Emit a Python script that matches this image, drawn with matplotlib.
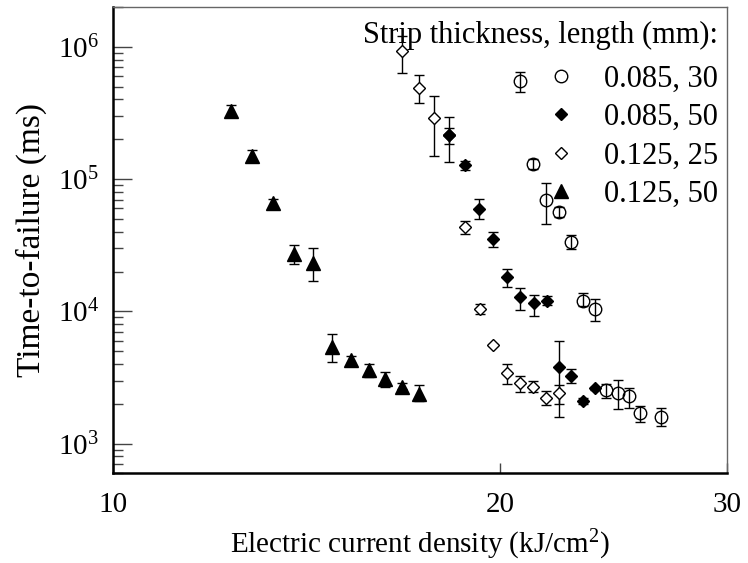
import numpy as np
import matplotlib
matplotlib.use("Agg")
import matplotlib.pyplot as plt
from matplotlib.ticker import LogLocator, FixedLocator, FixedFormatter, NullLocator

plt.rcParams['font.family'] = ['Liberation Serif', 'DejaVu Serif']
plt.rcParams['mathtext.fontset'] = 'custom'
plt.rcParams['mathtext.rm'] = 'Liberation Serif'
plt.rcParams['mathtext.it'] = 'Liberation Serif:italic'

# ---- data: 0.085 mm, 30 mm (open circles)
c_x = [20.73, 21.21, 21.71, 22.21, 22.71, 23.18, 23.71, 24.17, 24.68, 25.17, 25.66, 26.67]
c_y = [550000, 131000, 69000, 56700, 33600, 12000, 10500, 2550, 2400, 2280, 1690, 1590]
c_hi = [647000, 143000, 92700, 61500, 37800, 13700, 12300, 2810, 3030, 2650, 1910, 1850]
c_lo = [457000, 120000, 45500, 52000, 29800, 10900, 8470, 2230, 1820, 1850, 1460, 1350]

# ---- data: 0.085 mm, 50 mm (filled diamonds)
f_x = [18.24, 18.76, 19.24, 19.74, 20.22, 20.73, 21.23, 21.74, 22.21, 22.71, 23.18, 23.67]
f_y = [214000, 127000, 59700, 35500, 18300, 12900, 11500, 12000, 3800, 3250, 2100, 2620]
f_hi = [296000, 136000, 71100, 40100, 21000, 15100, 13400, 13000, 5970, 3660, 2200, 2700]
f_lo = [134000, 118000, 50200, 30800, 15300, 10200, 9230, 11100, 1600, 2860, 2000, 2540]

# ---- data: 0.125 mm, 25 mm (open diamonds)
d_x = [16.77, 17.28, 17.75, 18.24, 18.76, 19.27, 19.74, 20.24, 20.73, 21.20, 21.71, 22.21]
d_y = [927000, 490000, 291000, 214000, 43400, 10500, 5570, 3400, 2860, 2700, 2230, 2400]
d_hi = [1200000, 615000, 428000, 244000, 48200, 11450, 5700, 3980, 3220, 2950, 2480, 2770]
d_lo = [637000, 375000, 149000, 183000, 38700, 9500, 5450, 2810, 2440, 2460, 1950, 1990]

# ---- data: 0.125 mm, 50 mm (filled triangles)
t_x = [12.34, 12.83, 13.32, 13.82, 14.31, 14.80, 15.30, 15.80, 16.28, 16.77, 17.28]
t_y = [326000, 149000, 66400, 27000, 23400, 5380, 4300, 3590, 3070, 2700, 2370]
t_hi = [361000, 167000, 71100, 32000, 30000, 6710, 4580, 3980, 3480, 2850, 2770]
t_lo = [300000, 140000, 62000, 23000, 17000, 4150, 4050, 3210, 2690, 2600, 2100]

legend_title = "Strip thickness, length (mm):"
labels = ["0.085, 30", "0.085, 50", "0.125, 25", "0.125, 50"]
x_ticks = [10, 20, 30]

fig = plt.figure(figsize=(7.48, 5.63), dpi=100)
ax = fig.add_axes([0.1511, 0.1599, 0.8208, 0.8277])


def eb(x, y, lo, hi, **kw):
    x = np.array(x); y = np.array(y); lo = np.array(lo); hi = np.array(hi)
    return ax.errorbar(x, y, yerr=[y - lo, hi - y], ecolor='black', elinewidth=1.0,
                       capsize=3.6, capthick=1.0, linestyle='none', **kw)

e_d = eb(d_x, d_y, d_lo, d_hi, marker='D', ms=6.2, mfc='white', mec='black', mew=1.0)
e_f = eb(f_x, f_y, f_lo, f_hi, marker='D', ms=6.2, mfc='black', mec='black', mew=1.0)
e_c = eb(c_x, c_y, c_lo, c_hi, marker='o', ms=9, mfc='none', mec='black', mew=1.0)
e_t = eb(t_x, t_y, t_lo, t_hi, marker='^', ms=9.5, mfc='black', mec='black', mew=1.0)

ax.set_xscale('log')
ax.set_yscale('log')
ax.set_xlim(10, 30)
ax.set_ylim(600, 2.0e6)

ax.xaxis.set_major_locator(FixedLocator(x_ticks))
ax.xaxis.set_major_formatter(FixedFormatter([str(v) for v in x_ticks]))
ax.xaxis.set_minor_locator(NullLocator())
ax.yaxis.set_major_locator(LogLocator(base=10))
ax.yaxis.set_minor_locator(LogLocator(base=10, subs=np.arange(2, 10)))

ax.tick_params(axis='x', which='major', direction='in', length=7, width=1, pad=14,
               labelsize=21, top=False, bottom=True, color='#444444')
ax.tick_params(axis='y', which='major', direction='in', length=14, width=1, pad=10,
               labelsize=21, right=False, color='#444444')
ax.tick_params(axis='y', which='minor', direction='in', length=7, width=1, right=False,
               color='#444444')

for s in ['left', 'bottom']:
    ax.spines[s].set_linewidth(1.8)
    ax.spines[s].set_color('black')
for s in ['top', 'right']:
    ax.spines[s].set_linewidth(1.0)
    ax.spines[s].set_color('#666666')

ax.set_xlabel("Electric current density (kJ/cm$^2$)", fontsize=21, labelpad=7)
ax.set_ylabel("Time-to-failure (ms)", fontsize=24, labelpad=8)

handles = [e_c[0], e_f[0], e_d[0], e_t[0]]
leg = ax.legend(handles, labels, title=legend_title, loc='upper right',
                bbox_to_anchor=(1.015, 1.01), frameon=False, fontsize=22,
                title_fontsize=22, alignment='right', handlelength=0.8,
                handletextpad=1.0, labelspacing=0.3, borderaxespad=0.2,
                markerscale=1.0)
leg._legend_box.sep = 11

fig.savefig("out.png", dpi=100)
